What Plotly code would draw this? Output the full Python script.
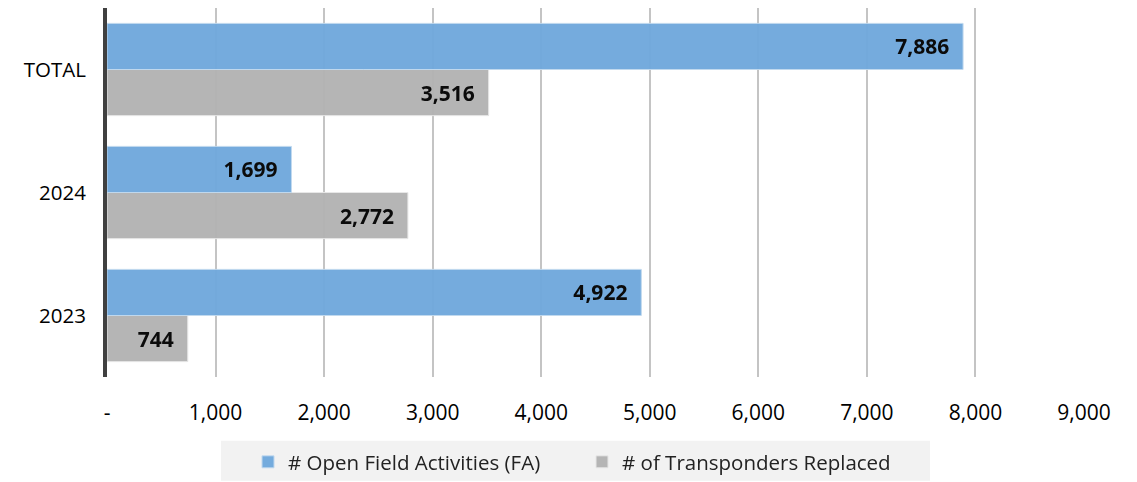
import plotly.graph_objects as go

categories = ["2023", "2024", "TOTAL"]
open_fa = [4922, 1699, 7886]
transponders = [744, 2772, 3516]
series_names = ["# Open Field Activities (FA)", "# of Transponders Replaced"]
tick_vals = [0, 1000, 2000, 3000, 4000, 5000, 6000, 7000, 8000, 9000]
tick_text = ["-", "1,000", "2,000", "3,000", "4,000", "5,000", "6,000", "7,000", "8,000", "9,000"]

BLUE = "#6FA8DC"
GRAY = "#B2B2B2"
FONT = "Open Sans"
PAD = "\u00a0\u00a0"

# page body has an 8px margin; plot area spans page x 107..1084, y 8..378
W, H = 1129, 474
L, R, T, B = 99, 53, 0, 104

fig = go.Figure()
fig.add_trace(go.Bar(
    y=categories, x=transponders, orientation="h", name=series_names[1],
    marker=dict(color=GRAY, line=dict(color="#E6E6E6", width=1)),
    texttemplate="%{x:,}" + PAD, textposition="inside",
    insidetextanchor="end",
    textfont=dict(family=FONT, size=21, color="black", weight="bold"),
    opacity=0.96,
))
fig.add_trace(go.Bar(
    y=categories, x=open_fa, orientation="h", name=series_names[0],
    marker=dict(color=BLUE, line=dict(color="#BFD8EE", width=1)),
    texttemplate="%{x:,}" + PAD, textposition="inside",
    insidetextanchor="end",
    textfont=dict(family=FONT, size=21, color="black", weight="bold"),
    opacity=0.96,
))

plot_w = W - L - R
plot_h = H - T - B

fig.update_layout(
    width=W, height=H,
    margin=dict(l=L, r=R, t=T, b=B),
    paper_bgcolor="white", plot_bgcolor="white",
    barmode="group", bargap=0.25, bargroupgap=0.0,
    font=dict(family=FONT, size=20, color="black"),
    showlegend=True,
    legend=dict(
        orientation="h", x=(582 - 107) / plot_w, xanchor="center",
        y=-(463 - 378) / plot_h, yanchor="middle",
        bgcolor="rgba(0,0,0,0)", traceorder="reversed",
        font=dict(family=FONT, size=20.5, color="#222"),
        entrywidth=289, itemwidth=30,
    ),
    xaxis=dict(
        range=[0, 9000], tickvals=tick_vals, ticktext=tick_text,
        showgrid=True, gridcolor="#C4C4C4", gridwidth=2,
        zeroline=False, showline=False, ticks="", automargin=False,
        tickfont=dict(family=FONT, size=21, color="black"),
        ticklabelstandoff=21,
    ),
    yaxis=dict(
        showgrid=False, zeroline=False, ticks="", automargin=False,
        showline=True, linecolor="#404040", linewidth=4,
        tickfont=dict(family=FONT, size=20.5, color="black"),
        ticklabelstandoff=13,
    ),
    shapes=[
        dict(type="rect", xref="paper", yref="paper",
             x0=(221 - 107) / plot_w, x1=(930 - 107) / plot_w,
             y0=(378 - 482) / plot_h, y1=(378 - 442) / plot_h,
             fillcolor="#F2F2F2", line=dict(width=0), layer="below"),
    ],
)

fig.write_html("out.html")
